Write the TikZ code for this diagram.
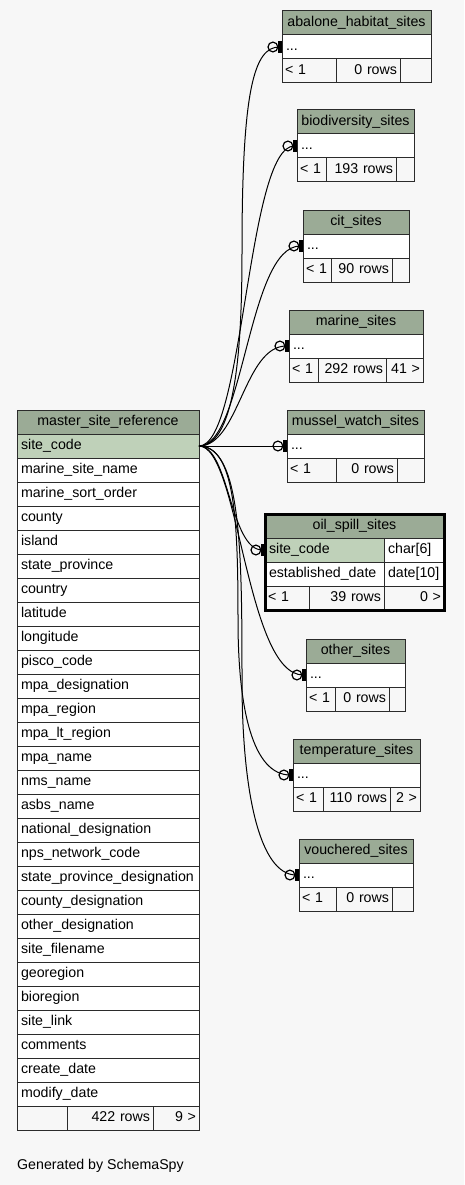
\documentclass[tikz,border=0pt]{standalone}
\usepackage{fontspec}
\setmainfont{Liberation Sans}
\usetikzlibrary{positioning, arrows.meta}
\definecolor{hdrgreen}{HTML}{9BAB96}
\definecolor{keygreen}{HTML}{BFD1B9}
\definecolor{pagebg}{HTML}{F7F7F7}
\definecolor{edgegray}{HTML}{2B2B2B}
\tikzset{
  tcell/.style = {draw=edgegray, line width=1pt, outer sep=0pt, inner xsep=4pt, inner ysep=0pt, minimum height=24pt, text height=10.5pt, text depth=3pt, font=\fontsize{14.2}{16}\selectfont, fill=white},
  thead/.style = {tcell, fill=hdrgreen, align=center},
  trow/.style  = {tcell, align=left},
  tkey/.style  = {trow, fill=keygreen},
  tleft/.style = {tcell, inner xsep=3pt, fill=pagebg, align=left},
  tright/.style= {tcell, inner xsep=3pt, fill=pagebg, align=right},
  link/.style  = {line width=1pt, -{Circle[open, length=11pt, width=11pt, line width=1.2pt] Bar[width=12pt, line width=3.6pt]}}
}

\begin{document}
\begin{tikzpicture}[x=1pt, y=-1pt]
  \fill[pagebg] (0,0) rectangle (464,1185);
  \useasboundingbox (0,0) rectangle (464,1185);

  % master table
  \node[thead, text width=174pt, anchor=north west] (msr) at (17,410) {master\_site\_reference};
  \node[tkey, text width=174pt, below=0pt of msr] (msr-0) {site\_code};
  \foreach \f [count=\i, evaluate=\i as \j using int(\i-1)] in {marine\_site\_name, marine\_sort\_order, county, island, state\_province, country, latitude, longitude, pisco\_code, mpa\_designation, mpa\_region, mpa\_lt\_region, mpa\_name, nms\_name, asbs\_name, national\_designation, nps\_network\_code, state\_province\_designation, county\_designation, other\_designation, site\_filename, georegion, bioregion, site\_link, comments, create\_date, modify\_date}
    \node[trow, text width=174pt, below=0pt of msr-\j] (msr-\i) {\f};
  \node[tleft, text width=44pt, anchor=north west] (msr-f1) at (msr-27.south west) {};
  \node[tright, text width=80pt, right=0pt of msr-f1] (msr-f2) {422 rows};
  \node[tright, text width=40pt, right=0pt of msr-f2] (msr-f3) {9 >};

  % abalone_habitat_sites
  \node[thead, text width=141pt, anchor=north west] (aba) at (282,11) {abalone\_habitat\_sites};
  \node[trow, text width=141pt, below=0pt of aba] (aba-r) {...};
  \node[tleft, text width=48pt, anchor=north west] (aba-f1) at (aba-r.south west) {< 1};
  \node[tright, text width=58pt, right=0pt of aba-f1] (aba-f2) {0 rows};
  \node[tright, text width=25pt, right=0pt of aba-f2] (aba-f3) {};

  % biodiversity_sites
  \node[thead, text width=109pt, anchor=north west] (bio) at (297,110) {biodiversity\_sites};
  \node[trow, text width=109pt, below=0pt of bio] (bio-r) {...};
  \node[tleft, text width=23pt, anchor=north west] (bio-f1) at (bio-r.south west) {< 1};
  \node[tright, text width=64pt, right=0pt of bio-f1] (bio-f2) {193 rows};
  \node[tright, text width=12pt, right=0pt of bio-f2] (bio-f3) {};

  % cit_sites
  \node[thead, text width=98pt, anchor=north west] (cit) at (303,210) {cit\_sites};
  \node[trow, text width=98pt, below=0pt of cit] (cit-r) {...};
  \node[tleft, text width=22pt, anchor=north west] (cit-f1) at (cit-r.south west) {< 1};
  \node[tright, text width=55pt, right=0pt of cit-f1] (cit-f2) {90 rows};
  \node[tright, text width=11pt, right=0pt of cit-f2] (cit-f3) {};

  % marine_sites
  \node[thead, text width=126pt, anchor=north west] (mar) at (289,310) {marine\_sites};
  \node[trow, text width=126pt, below=0pt of mar] (mar-r) {...};
  \node[tleft, text width=23pt, anchor=north west] (mar-f1) at (mar-r.south west) {< 1};
  \node[tright, text width=62pt, right=0pt of mar-f1] (mar-f2) {292 rows};
  \node[tright, text width=31pt, right=0pt of mar-f2] (mar-f3) {41 >};

  % mussel_watch_sites
  \node[thead, text width=129pt, anchor=north west] (mus) at (287,410) {mussel\_watch\_sites};
  \node[trow, text width=129pt, below=0pt of mus] (mus-r) {...};
  \node[tleft, text width=43pt, anchor=north west] (mus-f1) at (mus-r.south west) {< 1};
  \node[tright, text width=55pt, right=0pt of mus-f1] (mus-f2) {0 rows};
  \node[tright, text width=21pt, right=0pt of mus-f2] (mus-f3) {};

  % oil_spill_sites
  \node[thead, text width=171pt, anchor=north west] (osp) at (265,514) {oil\_spill\_sites};
  \node[tkey, text width=111pt, anchor=north west] (osp-sc) at (osp.south west) {site\_code};
  \node[trow, text width=52pt, right=0pt of osp-sc] (osp-sct) {char[6]};
  \node[trow, text width=111pt, below=0pt of osp-sc] (osp-ed) {established\_date};
  \node[trow, text width=52pt, right=0pt of osp-ed] (osp-edt) {date[10]};
  \node[tleft, text width=38pt, anchor=north west] (osp-f1) at (osp-ed.south west) {< 1};
  \node[tright, text width=69pt, right=0pt of osp-f1] (osp-f2) {39 rows};
  \node[tright, text width=54pt, right=0pt of osp-f2] (osp-f3) {0 >};
  \draw[line width=3pt, black] (osp.north west) rectangle (osp-f3.south east);

  % other_sites
  \node[thead, text width=91pt, anchor=north west] (oth) at (306,639) {other\_sites};
  \node[trow, text width=91pt, below=0pt of oth] (oth-r) {...};
  \node[tleft, text width=23pt, anchor=north west] (oth-f1) at (oth-r.south west) {< 1};
  \node[tright, text width=48pt, right=0pt of oth-f1] (oth-f2) {0 rows};
  \node[tright, text width=10pt, right=0pt of oth-f2] (oth-f3) {};

  % temperature_sites
  \node[thead, text width=119pt, anchor=north west] (tmp) at (293,739) {temperature\_sites};
  \node[trow, text width=119pt, below=0pt of tmp] (tmp-r) {...};
  \node[tleft, text width=24pt, anchor=north west] (tmp-f1) at (tmp-r.south west) {< 1};
  \node[tright, text width=61pt, right=0pt of tmp-f1] (tmp-f2) {110 rows};
  \node[tright, text width=24pt, right=0pt of tmp-f2] (tmp-f3) {2 >};

  % vouchered_sites
  \node[thead, text width=106pt, anchor=north west] (vou) at (299,839) {vouchered\_sites};
  \node[trow, text width=106pt, below=0pt of vou] (vou-r) {...};
  \node[tleft, text width=31pt, anchor=north west] (vou-f1) at (vou-r.south west) {< 1};
  \node[tright, text width=50pt, right=0pt of vou-f1] (vou-f2) {0 rows};
  \node[tright, text width=15pt, right=0pt of vou-f2] (vou-f3) {};

  \node[anchor=west, inner sep=0pt, font=\fontsize{14.2}{16}\selectfont] (gen) at (17,1166) {Generated by SchemaSpy};

  % links
  \coordinate (aba-via) at (242,250);
  \coordinate (tmp-via) at (238,620);
  \coordinate (vou-via) at (242,680);
  \draw[link] (msr-0.east) .. controls +(38,0) and +(0,90) .. (aba-via) .. controls +(0,-160) and +(-28,0) .. (aba-r.west);
  \draw[link] (msr-0.east) .. controls +(45,0) and +(-50,0) .. (bio-r.west);
  \draw[link] (msr-0.east) .. controls +(45,0) and +(-55,0) .. (cit-r.west);
  \draw[link] (msr-0.east) .. controls +(40,0) and +(-45,0) .. (mar-r.west);
  \draw[link] (msr-0.east) -- (mus-r.west);
  \draw[link] (msr-0.east) .. controls +(30,0) and +(-35,0) .. (osp-sc.west);
  \draw[link] (msr-0.east) .. controls +(40,0) and +(-60,0) .. (oth-r.west);
  \draw[link] (msr-0.east) .. controls +(36,0) and +(0,-100) .. (tmp-via) .. controls +(0,90) and +(-40,0) .. (tmp-r.west);
  \draw[link] (msr-0.east) .. controls +(42,0) and +(0,-130) .. (vou-via) .. controls +(0,110) and +(-40,0) .. (vou-r.west);
\end{tikzpicture}
\end{document}
